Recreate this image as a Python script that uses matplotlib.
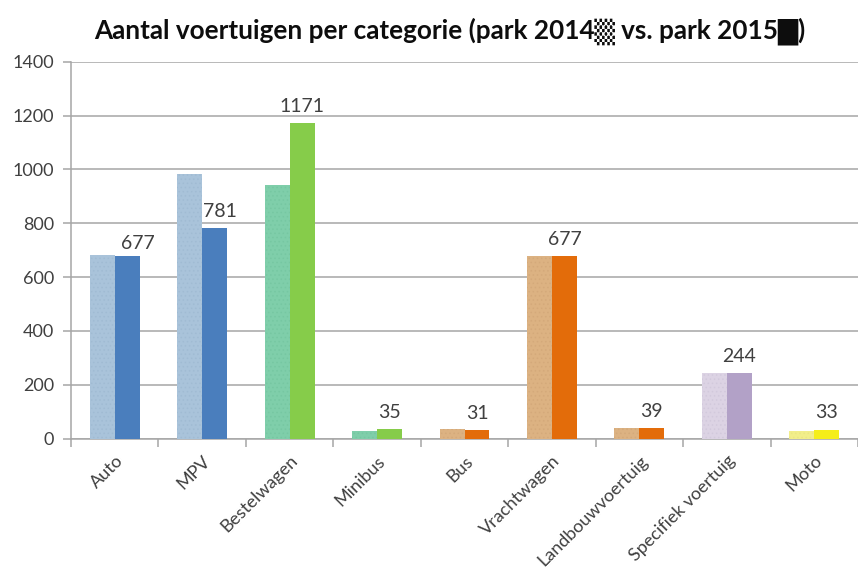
import matplotlib
matplotlib.use("Agg")
import matplotlib.pyplot as plt
import numpy as np

categories = ["Auto", "MPV", "Bestelwagen", "Minibus", "Bus", "Vrachtwagen",
              "Landbouwvoertuig", "Specifiek voertuig", "Moto"]
park_2014 = [684, 983, 943, 30, 37, 677, 38, 243, 28]
park_2015 = [677, 781, 1171, 35, 31, 677, 39, 244, 33]

colors_2014 = ["#a9c3da", "#a9c3da", "#7fceaa", "#7fceaa", "#dcb282",
               "#dcb282", "#dcb282", "#dcd3e4", "#f2ee8a"]
hatch_2014 = ["#a0bbd3", "#a0bbd3", "#76c7a2", "#76c7a2", "#d4a97a",
              "#d4a97a", "#d4a97a", "#d2c9dc", "#ebe782"]
colors_2015 = ["#4a7ebd", "#4a7ebd", "#86cc4a", "#86cc4a", "#e36c0a",
               "#e36c0a", "#e36c0a", "#b2a1c7", "#f5ee1a"]

yticks = [0, 200, 400, 600, 800, 1000, 1200, 1400]

# value labels that are nudged sideways so they clear the neighbouring bar
label_nudge = {0: (8, 3), 1: (4, 6)}

plt.rcParams["hatch.linewidth"] = 0.6

fig = plt.figure(figsize=(8.58, 5.72), dpi=100)
ax = fig.add_axes([71 / 858, 1 - 438.7 / 572, 1 - 71 / 858, (438.7 - 61.7) / 572])

x = np.arange(len(categories))
w = 0.285
for i in range(len(categories)):
    ax.bar(x[i] - w / 2, park_2014[i], width=w, color=colors_2014[i],
           edgecolor=hatch_2014[i], hatch="....", linewidth=0, zorder=3)
    ax.bar(x[i] + w / 2, park_2015[i], width=w, color=colors_2015[i],
           linewidth=0, zorder=3)
    ax.annotate(str(park_2015[i]), (x[i] + w / 2, park_2015[i]),
                xytext=label_nudge.get(i, (0, 6)), textcoords="offset points",
                ha="center", va="bottom", fontsize=14, color="#404040",
                family="Lato")

ax.set_ylim(0, 1400)
ax.set_xlim(-0.5, 8.5 - 6 / 88.1)
ax.set_yticks(yticks)
ax.set_yticklabels([str(v) for v in yticks], fontsize=13, color="#404040",
                   family="Lato")
ax.yaxis.grid(True, color="#a6a6a6", linewidth=1.1, zorder=0)
ax.set_axisbelow(True)

ax.set_xticks(x)
ax.set_xticklabels(categories, rotation=45, ha="right", rotation_mode="anchor",
                   fontsize=13, color="#404040", family="Lato")
ax.set_xticks(np.arange(-0.5, 9.0, 1.0), minor=True)
ax.tick_params(axis="x", which="major", length=0, pad=10)
ax.tick_params(axis="x", which="minor", length=6, color="#a6a6a6", width=1.1)
ax.tick_params(axis="y", length=6, color="#a6a6a6", width=1.1, pad=6)

for side in ("top", "right"):
    ax.spines[side].set_visible(False)
for side in ("left", "bottom"):
    ax.spines[side].set_color("#a6a6a6")
    ax.spines[side].set_linewidth(1.1)

fig.text(450 / 858, 1 - 31 / 572,
         "Aantal voertuigen per categorie (park 2014\u2592 vs. park 2015\u2588)",
         ha="center", va="center", fontsize=18.8, fontweight="bold",
         color="#0d0d0d", family=["Lato", "DejaVu Sans"])

fig.savefig("out.png", dpi=100, facecolor="white")
